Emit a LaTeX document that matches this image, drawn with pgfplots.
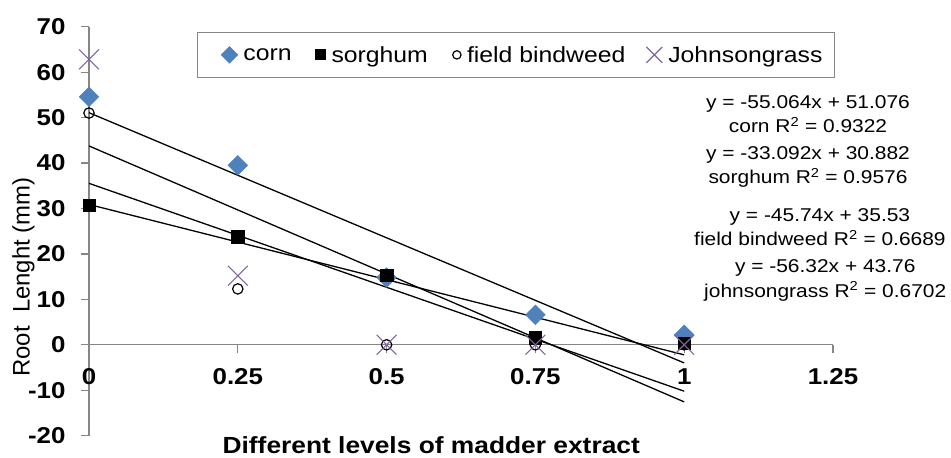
\documentclass[border=0pt]{standalone}
\usepackage{pgfplots}
\pgfplotsset{compat=1.18}
\usepackage{fontspec}
\setmainfont{Liberation Sans}[FakeStretch=1.13]
\newfontfamily\plainfont{Liberation Sans}
\definecolor{cornblue}{HTML}{4F81BD}
\definecolor{jgpurple}{HTML}{8064A2}
\definecolor{axgray}{HTML}{868686}
\begin{document}
\begin{tikzpicture}
\path[use as bounding box] (0,0) rectangle (951bp,458bp);
\begin{axis}[
  at={(89bp,22.3bp)}, anchor=south west,
  scale only axis, width=744bp, height=409bp,
  xmin=0, xmax=1.25, ymin=-20, ymax=70,
  axis x line=middle, axis y line=left,
  hide obscured x ticks=false,
  axis line style={axgray, line width=1.2bp, -},
  every tick/.style={axgray, line width=1.2bp},
  tick align=outside,
  major tick length=8bp,
  xtick={0,0.25,0.5,0.75,1,1.25},
  xticklabels={0,0.25,0.5,0.75,1,1.25},
  ytick={-20,-10,0,10,20,30,40,50,60,70},
  /pgf/number format/assume math mode=true,
  ticklabel style={font=\fontsize{23}{27}\selectfont\bfseries, text=black},
  xticklabel style={yshift=-12bp},
  yticklabel style={xshift=-12bp},
  clip=false,
  xlabel={Different levels of madder extract},
  xlabel style={at={(axis description cs:0.46,-0.023)}, anchor=center, font=\fontsize{23.4}{27}\selectfont\bfseries},
  ylabel={\plainfont Root~ Lenght (mm)},
  ylabel style={at={(axis description cs:-0.088,0.388)}, anchor=center, rotate=0, font=\fontsize{24}{28}\selectfont},
  legend columns=4,
  legend style={at={(0.145,0.988)}, anchor=north west, draw=axgray, line width=1.2bp,
    font=\fontsize{22}{26}\selectfont, inner xsep=10bp, inner ysep=12bp,
    /tikz/every odd column/.append style={column sep=4bp},
    /tikz/every even column/.append style={column sep=5bp}},
  legend cell align=left,
  legend image code/.code={\path[draw=none,fill=none] (0bp,0bp) -- (1bp,0bp);\draw[#1,/tikz/every mark/.append style={scale=0.8}] plot coordinates {(22bp,0bp)};},
]
\addplot[black, line width=1.3bp, forget plot] coordinates {(0,51.076) (1,-3.988)};
\addplot[black, line width=1.3bp, forget plot] coordinates {(0,30.882) (1,-2.21)};
\addplot[black, line width=1.3bp, forget plot] coordinates {(0,35.53) (1,-10.21)};
\addplot[black, line width=1.3bp, forget plot] coordinates {(0,43.76) (1,-12.56)};

\addplot[only marks, mark=square*, mark size=7bp, mark options={rotate=45, fill=cornblue, draw=cornblue}]
  coordinates {(0,54.6) (0.25,39.5) (0.5,14.8) (0.75,6.6) (1,2.2)};
\addlegendentry{corn}
\addplot[only marks, mark=square*, mark size=6.2bp, mark options={fill=black, draw=black}]
  coordinates {(0,30.7) (0.25,23.8) (0.5,15.3) (0.75,1.6) (1,0.3)};
\addlegendentry{sorghum}
\addplot[only marks, mark=o, mark size=5.2bp, mark options={draw=black, fill=white, line width=1.2bp}]
  coordinates {(0,51.0) (0.25,12.3) (0.5,0) (0.75,0) (1,0)};
\addlegendentry{field bindweed}
\addplot[only marks, mark=x, mark size=14bp, mark options={draw=jgpurple, line width=1.1bp}]
  coordinates {(0,62.8) (0.25,15.2) (0.5,0) (0.75,0) (1,0)};
\addlegendentry{Johnsongrass}

\node[align=center, font=\fontsize{18.6}{24.5}\selectfont] at (axis cs:1.208,50.8) {y = -55.064x + 51.076\\corn R\textsuperscript{2} = 0.9322};
\node[align=center, font=\fontsize{18.6}{24.5}\selectfont] at (axis cs:1.208,39.2) {y = -33.092x + 30.882\\sorghum R\textsuperscript{2} = 0.9576};
\node[align=center, font=\fontsize{18.6}{24.5}\selectfont] at (axis cs:1.228,25.9) {y = -45.74x + 35.53\\field bindweed R\textsuperscript{2} = 0.6689};
\node[align=center, font=\fontsize{18.6}{24.5}\selectfont] at (axis cs:1.237,14.2) {y = -56.32x + 43.76\\johnsongrass R\textsuperscript{2} = 0.6702};
\end{axis}
\end{tikzpicture}
\end{document}
